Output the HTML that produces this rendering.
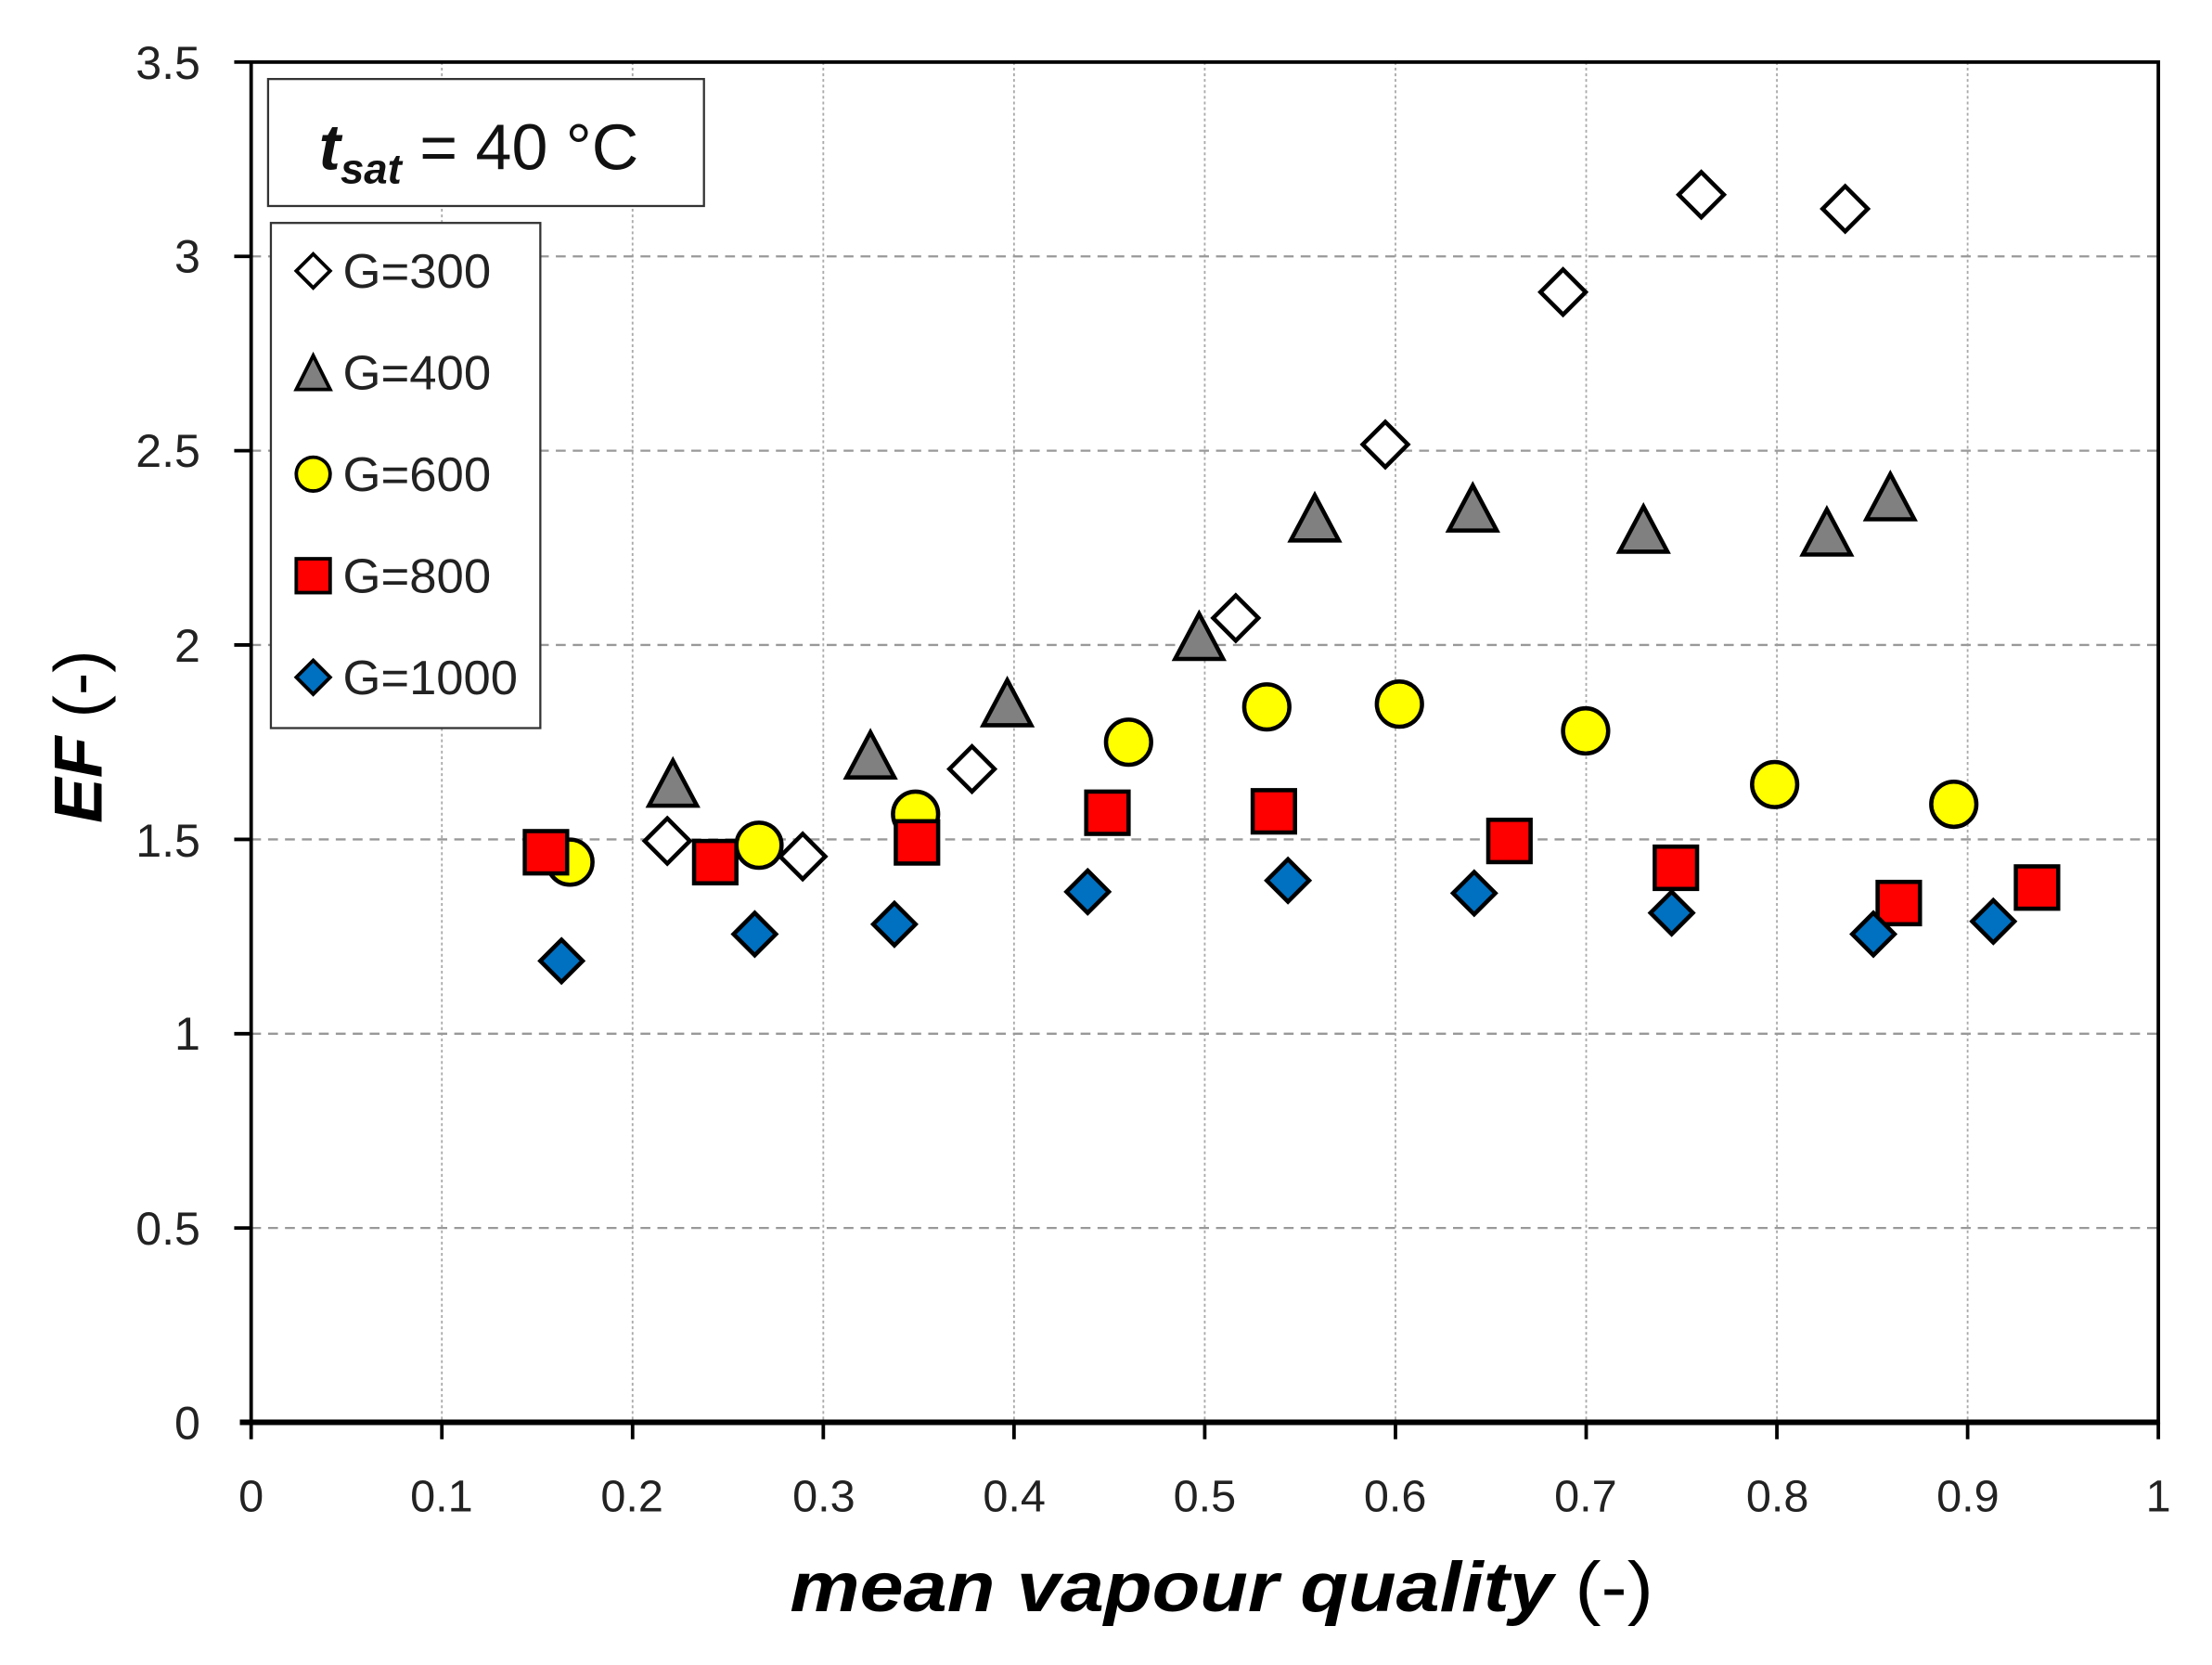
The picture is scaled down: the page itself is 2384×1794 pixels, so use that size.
<!DOCTYPE html>
<html><head><meta charset="utf-8"><style>
html,body{margin:0;padding:0;background:#fff}
svg{display:block}
text{font-family:"Liberation Sans",sans-serif}
</style></head><body>
<svg width="2384" height="1794" viewBox="0 0 1568 1180" xmlns="http://www.w3.org/2000/svg">
<rect width="1568" height="1180" fill="#fff"/>
<g stroke="#aaa" stroke-width="1.2" stroke-dasharray="2,2">
<line x1="313.2" y1="44" x2="313.2" y2="1008"/><line x1="448.4" y1="44" x2="448.4" y2="1008"/>
<line x1="583.6" y1="44" x2="583.6" y2="1008"/><line x1="718.8" y1="44" x2="718.8" y2="1008"/>
<line x1="854" y1="44" x2="854" y2="1008"/><line x1="989.2" y1="44" x2="989.2" y2="1008"/>
<line x1="1124.4" y1="44" x2="1124.4" y2="1008"/><line x1="1259.6" y1="44" x2="1259.6" y2="1008"/>
<line x1="1394.8" y1="44" x2="1394.8" y2="1008"/>
</g>
<g stroke="#999" stroke-width="1.5" stroke-dasharray="7,5">
<line x1="178" y1="870.3" x2="1530" y2="870.3"/><line x1="178" y1="732.6" x2="1530" y2="732.6"/>
<line x1="178" y1="594.9" x2="1530" y2="594.9"/><line x1="178" y1="457.1" x2="1530" y2="457.1"/>
<line x1="178" y1="319.4" x2="1530" y2="319.4"/><line x1="178" y1="181.7" x2="1530" y2="181.7"/>
</g>
<rect x="178" y="44" width="1352" height="964" fill="none" stroke="#000" stroke-width="2.5"/>
<line x1="170" y1="1008" x2="1530" y2="1008" stroke="#000" stroke-width="4"/>
<g stroke="#000" stroke-width="2.5">
<line x1="166" y1="44" x2="178" y2="44"/><line x1="166" y1="181.7" x2="178" y2="181.7"/><line x1="166" y1="319.4" x2="178" y2="319.4"/>
<line x1="166" y1="457.1" x2="178" y2="457.1"/><line x1="166" y1="594.9" x2="178" y2="594.9"/><line x1="166" y1="732.6" x2="178" y2="732.6"/>
<line x1="166" y1="870.3" x2="178" y2="870.3"/>
<line x1="178" y1="1008" x2="178" y2="1020"/><line x1="313.2" y1="1008" x2="313.2" y2="1020"/><line x1="448.4" y1="1008" x2="448.4" y2="1020"/>
<line x1="583.6" y1="1008" x2="583.6" y2="1020"/><line x1="718.8" y1="1008" x2="718.8" y2="1020"/><line x1="854" y1="1008" x2="854" y2="1020"/>
<line x1="989.2" y1="1008" x2="989.2" y2="1020"/><line x1="1124.4" y1="1008" x2="1124.4" y2="1020"/><line x1="1259.6" y1="1008" x2="1259.6" y2="1020"/>
<line x1="1394.8" y1="1008" x2="1394.8" y2="1020"/><line x1="1530" y1="1008" x2="1530" y2="1020"/>
</g>
<g font-size="33" fill="#222" text-anchor="end">
<text x="142" y="56">3.5</text><text x="142" y="193">3</text><text x="142" y="331">2.5</text><text x="142" y="469">2</text>
<text x="142" y="607">1.5</text><text x="142" y="744">1</text><text x="142" y="882">0.5</text><text x="142" y="1020">0</text>
</g>
<g font-size="32" fill="#222" text-anchor="middle">
<text x="178" y="1071">0</text><text x="313" y="1071">0.1</text><text x="448" y="1071">0.2</text><text x="584" y="1071">0.3</text>
<text x="719" y="1071">0.4</text><text x="854" y="1071">0.5</text><text x="989" y="1071">0.6</text><text x="1124" y="1071">0.7</text>
<text x="1260" y="1071">0.8</text><text x="1395" y="1071">0.9</text><text x="1530" y="1071">1</text>
</g>
<text x="560" y="1142" font-size="50" fill="#000" textLength="612" lengthAdjust="spacingAndGlyphs"><tspan font-weight="bold" font-style="italic">mean vapour quality</tspan> (-)</text>
<text transform="translate(72,522) rotate(-90)" font-size="48" text-anchor="middle" fill="#000"><tspan font-weight="bold" font-style="italic">EF</tspan> (-)</text>
<rect x="190" y="56" width="309" height="90" fill="#fff" stroke="#333" stroke-width="1.5"/>
<text x="226" y="120" font-size="46" fill="#111"><tspan font-weight="bold" font-style="italic">t</tspan><tspan font-weight="bold" font-style="italic" font-size="30" dy="10">sat</tspan><tspan dy="-10"> = 40 °C</tspan></text>
<rect x="192" y="158" width="191" height="358" fill="#fff" stroke="#333" stroke-width="1.5"/>
<g stroke="#000" stroke-width="2.5">
<path d="M222,180 L234,192 L222,204 L210,192Z" fill="#fff"/>
<path d="M222,252 L234,276 L210,276Z" fill="#808080"/>
<circle cx="222" cy="336" r="12" fill="#ff0"/>
<rect x="210" y="396" width="24" height="24" fill="#f00"/>
<path d="M222,468 L234,480 L222,492 L210,480Z" fill="#0070c0"/>
</g>
<g font-size="34" fill="#222">
<text x="243" y="204" textLength="105" lengthAdjust="spacingAndGlyphs">G=300</text>
<text x="243" y="276" textLength="105" lengthAdjust="spacingAndGlyphs">G=400</text>
<text x="243" y="348" textLength="105" lengthAdjust="spacingAndGlyphs">G=600</text>
<text x="243" y="420" textLength="105" lengthAdjust="spacingAndGlyphs">G=800</text>
<text x="243" y="492" textLength="124" lengthAdjust="spacingAndGlyphs">G=1000</text>
</g>
<defs>
<path id="d" d="M0,-16 L16,0 L0,16 L-16,0Z"/>
<path id="t" d="M0,-18 L17,14 L-17,14Z"/>
<rect id="s" x="-15" y="-15" width="30" height="30"/>
<path id="b" d="M0,-15 L15,0 L0,15 L-15,0Z"/>
</defs>
<g stroke="#000" stroke-width="3" fill="#fff">
<use href="#d" x="473" y="596"/><use href="#d" x="569" y="607"/><use href="#d" x="689" y="545"/><use href="#d" x="876" y="438"/>
<use href="#d" x="982" y="315"/><use href="#d" x="1108" y="207"/><use href="#d" x="1206" y="138"/><use href="#d" x="1308" y="148"/>
</g>
<g stroke="#000" stroke-width="3" fill="#808080">
<use href="#t" x="477" y="557"/><use href="#t" x="617" y="537"/><use href="#t" x="714" y="500"/><use href="#t" x="850" y="453"/>
<use href="#t" x="932" y="369"/><use href="#t" x="1044" y="362"/><use href="#t" x="1165" y="377"/><use href="#t" x="1295" y="379"/><use href="#t" x="1340" y="354"/>
</g>
<g stroke="#000" stroke-width="3" fill="#ff0">
<circle cx="404" cy="611" r="16"/><circle cx="538" cy="599" r="16"/><circle cx="649" cy="577" r="16"/><circle cx="800" cy="526" r="16"/>
<circle cx="898" cy="501" r="16"/><circle cx="992" cy="499" r="16"/><circle cx="1124" cy="518" r="16"/><circle cx="1258" cy="556" r="16"/><circle cx="1385" cy="570" r="16"/>
</g>
<g stroke="#000" stroke-width="3" fill="#f00">
<use href="#s" x="387" y="604"/><use href="#s" x="507" y="611"/><use href="#s" x="650" y="597"/><use href="#s" x="785" y="576"/>
<use href="#s" x="903" y="575"/><use href="#s" x="1070" y="596"/><use href="#s" x="1188" y="615"/><use href="#s" x="1346" y="640"/><use href="#s" x="1444" y="629"/>
</g>
<g stroke="#000" stroke-width="3" fill="#0070c0">
<use href="#b" x="398" y="681"/><use href="#b" x="535" y="662"/><use href="#b" x="634" y="655"/><use href="#b" x="771" y="632"/>
<use href="#b" x="913" y="624"/><use href="#b" x="1045" y="633"/><use href="#b" x="1185" y="647"/><use href="#b" x="1328" y="662"/><use href="#b" x="1413" y="653"/>
</g>
</svg>
</body></html>
